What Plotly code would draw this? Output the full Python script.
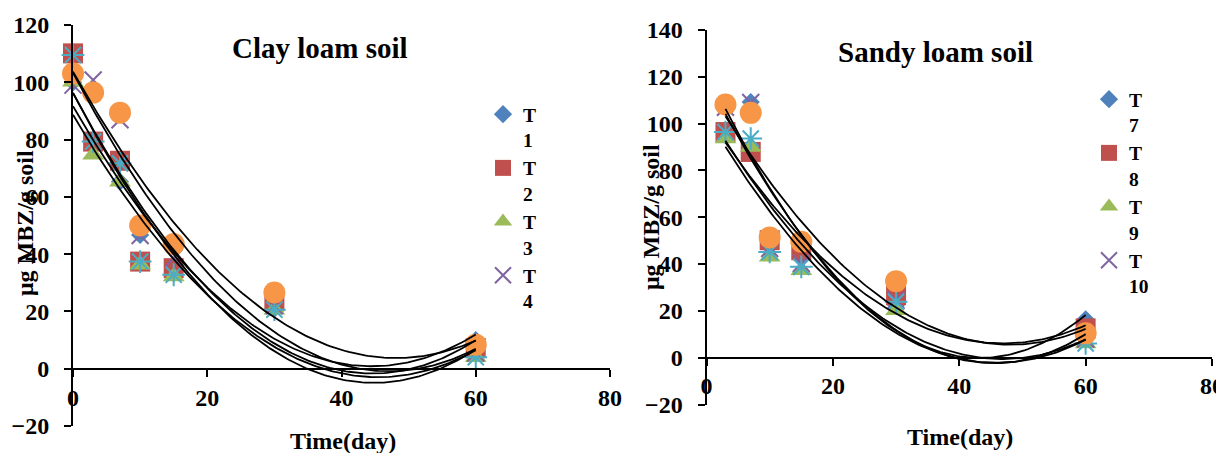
import numpy as np
import plotly.graph_objects as go

# ---------------- data ----------------
clay_days = [0, 3, 7, 10, 15, 30, 60]
clay_names = ["T<br>1", "T<br>2", "T<br>3", "T<br>4", "T<br>5", "T<br>6"]
clay_T1 = [100.0, 79.0, 65.3, 46.7, 33.4, 21.0, 10.0]
clay_T2 = [110.1, 79.3, 72.6, 37.4, 35.1, 23.5, 7.2]
clay_T3 = [100.2, 74.7, 65.3, 36.3, 32.2, 20.6, 4.0]
clay_T4 = [99.0, 100.8, 86.9, 46.5, 38.6, 22.0, 5.5]
clay_T5 = [109.5, 79.3, 71.7, 37.4, 32.8, 20.6, 4.0]
clay_T6 = [103.1, 96.4, 89.4, 50.0, 43.5, 26.6, 8.4]

sandy_days = [3, 7, 10, 15, 30, 60]
sandy_names = ["T<br>7", "T<br>8", "T<br>9", "T<br>10", "T<br>11", "T<br>12"]
sandy_T7 = [108.5, 109.2, 47.4, 43.0, 22.5, 16.4]
sandy_T8 = [96.4, 87.9, 50.2, 45.9, 26.7, 12.5]
sandy_T9 = [93.6, 90.0, 43.1, 37.4, 20.3, 6.1]
sandy_T10 = [107.0, 109.0, 46.7, 40.3, 24.6, 8.0]
sandy_T11 = [96.4, 93.6, 45.2, 38.8, 23.9, 6.1]
sandy_T12 = [108.2, 104.6, 51.4, 49.5, 32.7, 10.4]

x_ticks = [0, 20, 40, 60, 80]
clay_y_ticks = [-20, 0, 20, 40, 60, 80, 100, 120]
sandy_y_ticks = [-20, 0, 20, 40, 60, 80, 100, 120, 140]

# ---------------- styles ----------------
FONT = "Liberation Serif"
colors = ["#4F81BD", "#C0504D", "#9BBB59", "#8064A2", "#4BACC6", "#F79646"]
symbols = ["diamond", "square", "triangle-up", "x-thin-open", "asterisk-open", "circle"]
sizes = [14, 20, 19, 17, 19, 22]

# page body has an 8px margin, so the figure is shifted by 8px
OFF = 8
W, H = 1224 - OFF, 453 - OFF

def px(x):
    return (x - OFF) / W

def py(y):
    return 1 - (y - OFF) / H

L_x = [px(73), px(610)]
L_y = [py(426), py(25)]
R_x = [px(706.5), px(1212)]
R_y = [py(404.5), py(30)]

fig = go.Figure()

def add_panel(days, series, names, xa, ya, legend_name):
    for i, (ys, nm) in enumerate(zip(series, names)):
        if symbols[i].endswith("open"):
            marker = dict(symbol=symbols[i], size=sizes[i], color=colors[i],
                          line=dict(color=colors[i], width=2))
        else:
            marker = dict(symbol=symbols[i], size=sizes[i], color=colors[i],
                          line=dict(width=0))
        fig.add_trace(go.Scatter(
            x=days, y=ys, mode="markers", name=nm, marker=marker, cliponaxis=False,
            xaxis=xa, yaxis=ya, legend=legend_name, showlegend=(i < 4)))
    for ys in series:
        coef = np.polyfit(days, ys, 2)
        xs = np.linspace(min(days), max(days), 150)
        fig.add_trace(go.Scatter(
            x=xs, y=np.polyval(coef, xs), mode="lines", cliponaxis=False,
            line=dict(color="black", width=1.8), showlegend=False,
            xaxis=xa, yaxis=ya, hoverinfo="skip"))

add_panel(clay_days, [clay_T1, clay_T2, clay_T3, clay_T4, clay_T5, clay_T6],
          clay_names, "x", "y", "legend")
add_panel(sandy_days, [sandy_T7, sandy_T8, sandy_T9, sandy_T10, sandy_T11, sandy_T12],
          sandy_names, "x2", "y2", "legend2")

tickfont = dict(family=FONT, size=24, color="black", weight="bold")

def xaxis_cfg(dom, ydom, yr):
    pos = ydom[0] + (0 - yr[0]) / (yr[1] - yr[0]) * (ydom[1] - ydom[0])
    return dict(domain=dom, range=[0, 80], tickvals=x_ticks, showgrid=False,
                zeroline=False, showline=True, linecolor="black", linewidth=2,
                ticks="outside", ticklen=7, tickwidth=2, tickcolor="black",
                tickfont=tickfont, anchor="free", position=pos,
                ticklabelstandoff=0, automargin=False)

def yaxis_cfg(dom, yr, tv, anchor):
    return dict(domain=dom, range=yr, tickvals=tv, showgrid=False, zeroline=False,
                showline=True, linecolor="black", linewidth=2, ticks="outside",
                ticklen=7, tickwidth=2, tickcolor="black", tickfont=tickfont,
                anchor=anchor, ticklabelstandoff=10, automargin=False)

legend_font = dict(family=FONT, size=19.5, color="black", weight="bold")

def ann(text, x, y, size, angle=0):
    return dict(text=text, x=px(x), y=py(y), xref="paper", yref="paper",
                xanchor="center", yanchor="middle", showarrow=False, textangle=angle,
                font=dict(family=FONT, size=size, color="black", weight="bold"))

fig.update_layout(
    width=W, height=H, margin=dict(l=0, r=0, t=0, b=0),
    paper_bgcolor="white", plot_bgcolor="white",
    xaxis=xaxis_cfg(L_x, L_y, [-20, 120]),
    yaxis=yaxis_cfg(L_y, [-20, 120], clay_y_ticks, "x"),
    xaxis2=xaxis_cfg(R_x, R_y, [-20, 140]),
    yaxis2=yaxis_cfg(R_y, [-20, 140], sandy_y_ticks, "x2"),
    legend=dict(x=px(483), y=py(95), xanchor="left", yanchor="top",
                font=legend_font, valign="top", bgcolor="rgba(0,0,0,0)",
                tracegroupgap=0),
    legend2=dict(x=px(1089), y=py(80), xanchor="left", yanchor="top",
                 font=legend_font, valign="top", bgcolor="rgba(0,0,0,0)",
                 tracegroupgap=0),
    annotations=[
        ann("Clay loam soil", 320, 48, 29),
        ann("Sandy loam soil", 935, 52, 29),
        ann("Time(day)", 343, 441, 24),
        ann("Time(day)", 960, 437, 24),
        ann("μg MBZ/g soil", 25, 223, 24, -90),
        ann("μg MBZ/g soil", 651, 217, 24, -90),
    ],
)

fig.write_html("out.html")
